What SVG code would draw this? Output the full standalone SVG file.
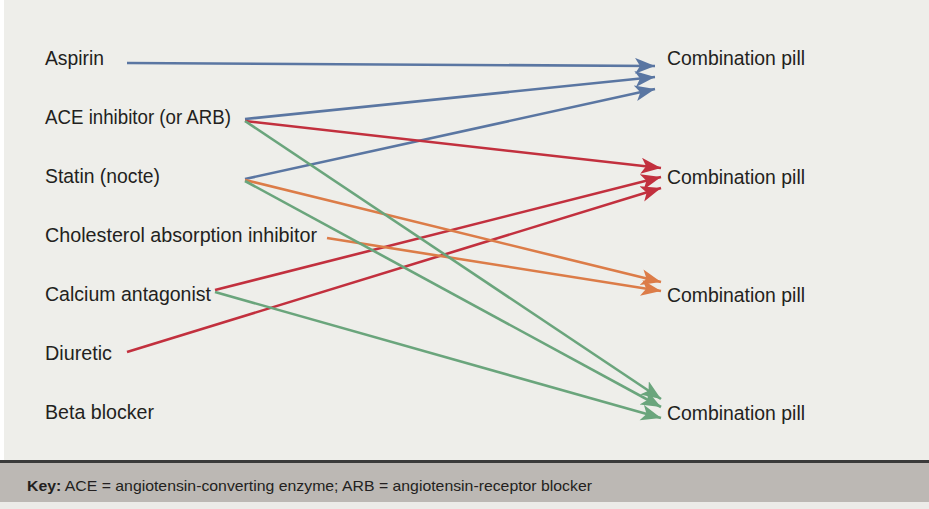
<svg xmlns="http://www.w3.org/2000/svg" width="929" height="509" viewBox="0 0 929 509">
<style>
.lbl{font-family:"Liberation Sans",Arial,sans-serif;font-size:20.5px;fill:#231f20}
.key{font-family:"Liberation Sans",Arial,sans-serif;font-size:15px;fill:#231f20}
.c{fill:none;stroke-width:2.6}
.b{stroke:#5a76a2}.r{stroke:#c2303e}.o{stroke:#dc7c48}.g{stroke:#6aa57c}
</style>
<defs>
<marker id="mb" markerUnits="userSpaceOnUse" markerWidth="21" markerHeight="17" refX="20" refY="8" orient="auto"><path d="M0,0 L20,8 L0,16 L5,8 z" fill="#5a76a2"/></marker>
<marker id="mr" markerUnits="userSpaceOnUse" markerWidth="21" markerHeight="17" refX="20" refY="8" orient="auto"><path d="M0,0 L20,8 L0,16 L5,8 z" fill="#c2303e"/></marker>
<marker id="mo" markerUnits="userSpaceOnUse" markerWidth="21" markerHeight="17" refX="20" refY="8" orient="auto"><path d="M0,0 L20,8 L0,16 L5,8 z" fill="#dc7c48"/></marker>
<marker id="mg" markerUnits="userSpaceOnUse" markerWidth="21" markerHeight="17" refX="20" refY="8" orient="auto"><path d="M0,0 L20,8 L0,16 L5,8 z" fill="#6aa57c"/></marker>
</defs>
<rect x="0" y="0" width="929" height="509" fill="#ffffff"/>
<rect x="4" y="0" width="925" height="462" fill="#eeeeea"/>
<rect x="0" y="460" width="929" height="3" fill="#3a3a3a"/>
<rect x="0" y="463" width="929" height="39" fill="#bcb8b4"/>
<rect x="0" y="502" width="929" height="7" fill="#ecebe8"/>

<g id="connectors">
<path class="c b" d="M127,63 L655,66" marker-end="url(#mb)"/>
<path class="c b" d="M245,119 L655,77" marker-end="url(#mb)"/>
<path class="c b" d="M245,179 L655,89" marker-end="url(#mb)"/>
<path class="c r" d="M245,121 L661,168" marker-end="url(#mr)"/>
<path class="c r" d="M215,290 L661,177" marker-end="url(#mr)"/>
<path class="c r" d="M127,352 L661,188" marker-end="url(#mr)"/>
<path class="c o" d="M245,180 L661,282" marker-end="url(#mo)"/>
<path class="c o" d="M327,238 L661,291" marker-end="url(#mo)"/>
<path class="c g" d="M245,121 L661,399" marker-end="url(#mg)"/>
<path class="c g" d="M245,181 L661,407" marker-end="url(#mg)"/>
<path class="c g" d="M215,292 L661,418" marker-end="url(#mg)"/>
</g>

<g id="aspirin"><text class="lbl" x="45" y="65" textLength="59" lengthAdjust="spacingAndGlyphs">Aspirin</text></g>
<g id="ace"><text class="lbl" x="45" y="124" textLength="186" lengthAdjust="spacingAndGlyphs">ACE inhibitor (or ARB)</text></g>
<g id="statin"><text class="lbl" x="45" y="183" textLength="115" lengthAdjust="spacingAndGlyphs">Statin (nocte)</text></g>
<g id="cholesterol"><text class="lbl" x="45" y="242" textLength="272" lengthAdjust="spacingAndGlyphs">Cholesterol absorption inhibitor</text></g>
<g id="calcium"><text class="lbl" x="45" y="301" textLength="166" lengthAdjust="spacingAndGlyphs">Calcium antagonist</text></g>
<g id="diuretic"><text class="lbl" x="45" y="360" textLength="67" lengthAdjust="spacingAndGlyphs">Diuretic</text></g>
<g id="beta"><text class="lbl" x="45" y="419" textLength="109" lengthAdjust="spacingAndGlyphs">Beta blocker</text></g>

<g id="pill1"><text class="lbl" x="667" y="65" textLength="138" lengthAdjust="spacingAndGlyphs">Combination pill</text></g>
<g id="pill2"><text class="lbl" x="667" y="184" textLength="138" lengthAdjust="spacingAndGlyphs">Combination pill</text></g>
<g id="pill3"><text class="lbl" x="667" y="302" textLength="138" lengthAdjust="spacingAndGlyphs">Combination pill</text></g>
<g id="pill4"><text class="lbl" x="667" y="420" textLength="138" lengthAdjust="spacingAndGlyphs">Combination pill</text></g>

<g id="key"><text class="key" x="27" y="491" textLength="565" lengthAdjust="spacingAndGlyphs"><tspan font-weight="bold">Key:</tspan> ACE = angiotensin-converting enzyme; ARB = angiotensin-receptor blocker</text></g>
</svg>
